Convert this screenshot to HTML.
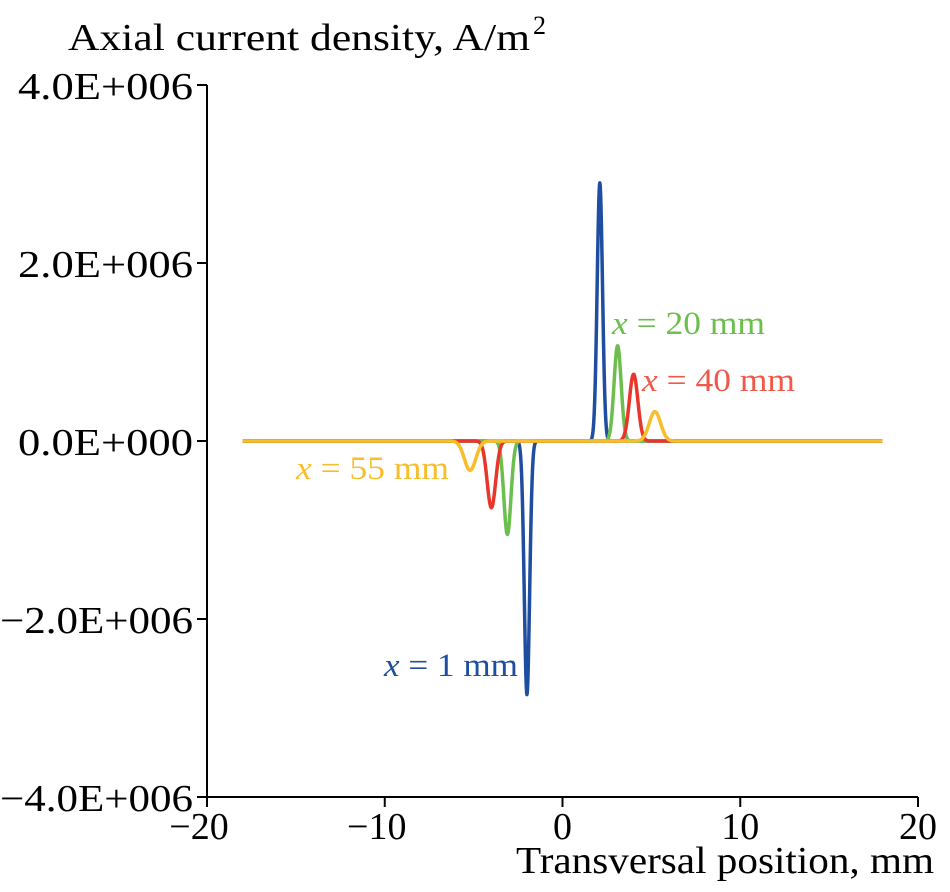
<!DOCTYPE html>
<html><head><meta charset="utf-8"><style>
html,body{margin:0;padding:0;background:#fff;}
svg{display:block;font-family:"Liberation Serif",serif;}
</style></head><body>
<svg id="chart" width="950" height="892" viewBox="0 0 950 892" xmlns="http://www.w3.org/2000/svg">
<g id="axes"></g>
<g id="series"></g>
<text x="68" y="50" font-size="38" textLength="462" lengthAdjust="spacingAndGlyphs">Axial current density, A/m</text>
<text x="533" y="34" font-size="26">2</text>
<text x="516" y="873" font-size="38" textLength="418" lengthAdjust="spacingAndGlyphs">Transversal position, mm</text>
<text x="612" y="334" font-size="33" textLength="153" lengthAdjust="spacingAndGlyphs" fill="#6cbf4e"><tspan font-style="italic">x</tspan> = 20 mm</text>
<text x="642" y="391" font-size="33" textLength="153" lengthAdjust="spacingAndGlyphs" fill="#ee5a4a"><tspan font-style="italic">x</tspan> = 40 mm</text>
<text x="296" y="479" font-size="33" textLength="153" lengthAdjust="spacingAndGlyphs" fill="#f8bd2a"><tspan font-style="italic">x</tspan> = 55 mm</text>
<text x="384" y="676" font-size="33" textLength="134" lengthAdjust="spacingAndGlyphs" fill="#1f4ea0"><tspan font-style="italic">x</tspan> = 1 mm</text>
</svg>
<script>
const xTicks = [-20, -10, 0, 10, 20];
const yTicks = [4e6, 2e6, 0, -2e6, -4e6];
const yTickLabels = ["4.0E+006", "2.0E+006", "0.0E+000", "\u22122.0E+006", "\u22124.0E+006"];
const seriesNames = ["x1", "x20", "x40", "x55"];
const seriesColors = ["#1f4ea0", "#6cbf4e", "#e8372a", "#f8bd2a"];
const posPeakX = [2.1, 3.1, 4.0, 5.2];
const posPeakY = [2.9e6, 1.07e6, 0.75e6, 0.33e6];
const negPeakX = [-2.0, -3.1, -4.0, -5.2];
const negPeakY = [-2.85e6, -1.05e6, -0.75e6, -0.33e6];
const peakWidth = [0.15, 0.2, 0.24, 0.32];
const xRange = [-18, 18];

const X0 = 207, X1 = 918, Y0 = 85, Y1 = 797;
const sx = v => X0 + (v + 20) / 40 * (X1 - X0);
const sy = v => Y0 + (4e6 - v) / 8e6 * (Y1 - Y0);
const NS = "http://www.w3.org/2000/svg";
const axes = document.getElementById("axes");
const ser = document.getElementById("series");
function mk(tag, attrs, parent) { const e = document.createElementNS(NS, tag); for (const k in attrs) e.setAttribute(k, attrs[k]); parent.appendChild(e); return e; }

let a = mk("line", {x1: X0, y1: Y0, x2: X0, y2: Y1, stroke: "#000", "stroke-width": 2}, axes);


a = mk("line", {x1: X0, y1: Y1, x2: X1, y2: Y1, stroke: "#000", "stroke-width": 2}, axes);



yTicks.forEach((v, i) => {
  const t = mk("line", {x1: X0 - 10, y1: sy(v), x2: X0, y2: sy(v), stroke: "#000", "stroke-width": 2}, axes);
  
  
  const neg = yTickLabels[i].charAt(0) === "\u2212";
  const l = mk("text", {x: neg ? 0 : 18, y: sy(v) + 14, "font-size": 38, textLength: neg ? 193 : 175, lengthAdjust: "spacingAndGlyphs"}, axes);
  l.textContent = yTickLabels[i];
  
  
});
xTicks.forEach(v => {
  const t = mk("line", {x1: sx(v), y1: Y1, x2: sx(v), y2: Y1 + 10, stroke: "#000", "stroke-width": 2}, axes);
  
  
  const l = mk("text", {x: sx(v) + (v < 0 ? -8 : 0), y: Y1 + 42, "font-size": 38, "text-anchor": "middle"}, axes);
  l.textContent = v < 0 ? "\u2212" + Math.abs(v) : String(v);
  
  
});

seriesNames.forEach((n, i) => {
  let d = "";
  for (let x = xRange[0]; x <= xRange[1] + 1e-9; x += 0.02) {
    const w = peakWidth[i];
    const v = posPeakY[i] * Math.exp(-((x - posPeakX[i]) ** 2) / (2 * w * w)) + negPeakY[i] * Math.exp(-((x - negPeakX[i]) ** 2) / (2 * w * w));
    d += (d ? "L" : "M") + sx(x).toFixed(2) + "," + sy(v).toFixed(2);
  }
  const p = mk("path", {d: d, fill: "none", stroke: seriesColors[i], "stroke-width": 3.5, "stroke-linejoin": "round"}, ser);
  
  
});
</script>
</body></html>
